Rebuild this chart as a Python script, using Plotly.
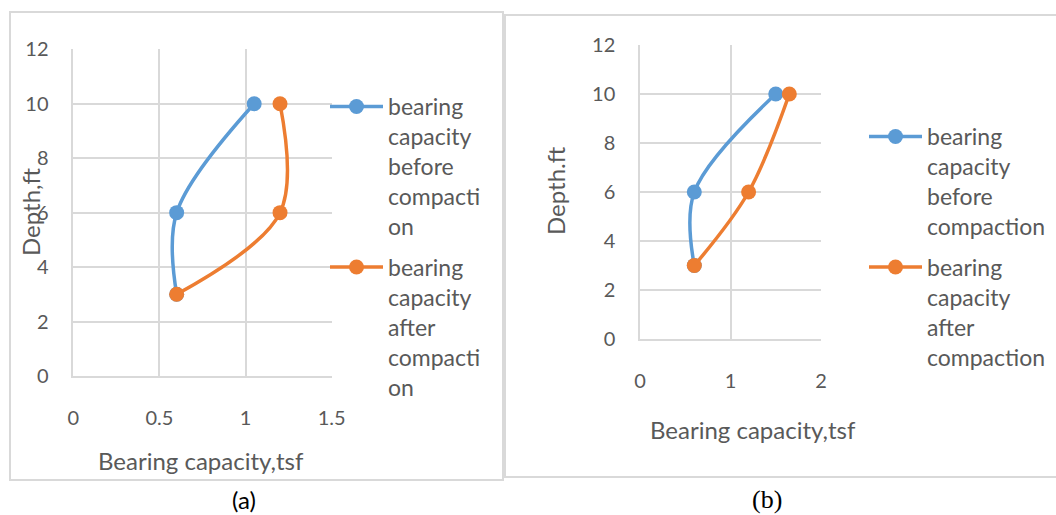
import plotly.graph_objects as go

W, H = 1056, 515

# ---- data ----
depth_ft = [3, 6, 10]
a_before = [0.6, 0.6, 1.05]
a_after = [0.6, 1.2, 1.2]
b_before = [0.6, 0.6, 1.5]
b_after = [0.6, 1.2, 1.65]

a_xticks = [0, 0.5, 1, 1.5]
a_xticklabels = ["0", "0.5", "1", "1.5"]
b_xticks = [0, 1, 2]
b_xticklabels = ["0", "1", "2"]
yticks = [0, 2, 4, 6, 8, 10, 12]

a_names = ["bearing<br>capacity<br>before<br>compacti<br>on",
           "bearing<br>capacity<br>after<br>compacti<br>on"]
b_names = ["bearing<br>capacity<br>before<br>compaction",
           "bearing<br>capacity<br>after<br>compaction"]

BLUE = "#5B9BD5"
ORANGE = "#ED7D31"
GREY = "#595959"
GRID = "#D9D9D9"
FONT = "Lato"


def px_x(p):
    return p / W


def px_y(p):
    return 1 - p / H


fig = go.Figure()

for xs, name, col, xa, ya, lg in [
    (a_before, a_names[0], BLUE, "x", "y", "legend"),
    (a_after, a_names[1], ORANGE, "x", "y", "legend"),
    (b_before, b_names[0], BLUE, "x2", "y2", "legend2"),
    (b_after, b_names[1], ORANGE, "x2", "y2", "legend2"),
]:
    fig.add_trace(go.Scatter(
        x=xs, y=depth_ft, name=name, mode="lines+markers",
        line=dict(color=col, width=3.5, shape="spline", smoothing=1),
        marker=dict(color=col, size=15),
        xaxis=xa, yaxis=ya, legend=lg, legendgroup=name,
    ))

axis_common = dict(
    showgrid=True, gridcolor=GRID, gridwidth=1.5,
    showline=True, linecolor=GRID, linewidth=1.5, zeroline=False,
    ticks="outside", tickcolor="rgba(0,0,0,0)",
    tickfont=dict(family=FONT, size=20, color=GREY),
    fixedrange=True, automargin=False,
)

fig.update_layout(
    template="none",
    width=W, height=H, autosize=False,
    margin=dict(l=0, r=0, t=0, b=0, pad=0),
    paper_bgcolor="white", plot_bgcolor="white",
    font=dict(family=FONT, color=GREY),
    xaxis=dict(axis_common, domain=[px_x(73.3), px_x(331.7)], range=[0, 1.5],
               tickvals=a_xticks, ticktext=a_xticklabels, ticklen=23,
               anchor="y"),
    yaxis=dict(axis_common, domain=[px_y(376), px_y(49.3)], range=[0, 12],
               tickvals=yticks, ticklen=19, anchor="x"),
    xaxis2=dict(axis_common, domain=[px_x(640), px_x(821)], range=[0, 2],
                tickvals=b_xticks, ticktext=b_xticklabels, ticklen=23,
                anchor="y2"),
    yaxis2=dict(axis_common, domain=[px_y(339), px_y(45)], range=[0, 12],
                tickvals=yticks, ticklen=19, anchor="x2"),
    legend=dict(x=px_x(325), y=px_y(85), xanchor="left", yanchor="top",
                valign="top", font=dict(family=FONT, size=23, color=GREY),
                tracegroupgap=8, bgcolor="rgba(0,0,0,0)", itemwidth=53),
    legend2=dict(x=px_x(864), y=px_y(115), xanchor="left", yanchor="top",
                 valign="top", font=dict(family=FONT, size=23, color=GREY),
                 tracegroupgap=8, bgcolor="rgba(0,0,0,0)", itemwidth=53),
    showlegend=True,
)

# chart borders
fig.add_shape(type="rect", xref="paper", yref="paper",
              x0=px_x(10), x1=px_x(503), y0=px_y(480), y1=px_y(12),
              line=dict(color=GRID, width=2), layer="below")
fig.add_shape(type="rect", xref="paper", yref="paper",
              x0=px_x(505), x1=px_x(1070), y0=px_y(477), y1=px_y(15),
              line=dict(color=GRID, width=2), layer="below")

# axis titles and captions
ann = [
    dict(text="Bearing capacity,tsf", x=px_x(201), y=px_y(460), size=24, angle=0, fam=FONT),
    dict(text="Depth,ft", x=px_x(30), y=px_y(212), size=24, angle=-90, fam=FONT),
    dict(text="Bearing capacity,tsf", x=px_x(753), y=px_y(429), size=24, angle=0, fam=FONT),
    dict(text="Depth.ft", x=px_x(556), y=px_y(191), size=24, angle=-90, fam=FONT),
    dict(text="(a)", x=px_x(244), y=px_y(499), size=24, angle=0, fam=FONT, col="black"),
    dict(text="(b)", x=px_x(767), y=px_y(499), size=26, angle=0, fam="Liberation Serif", col="black"),
]
for a in ann:
    fig.add_annotation(text=a["text"], x=a["x"], y=a["y"], xref="paper", yref="paper",
                       xanchor="center", yanchor="middle", showarrow=False,
                       textangle=a["angle"],
                       font=dict(family=a["fam"], size=a["size"], color=a.get("col", GREY)))

fig.write_html("out.html")
